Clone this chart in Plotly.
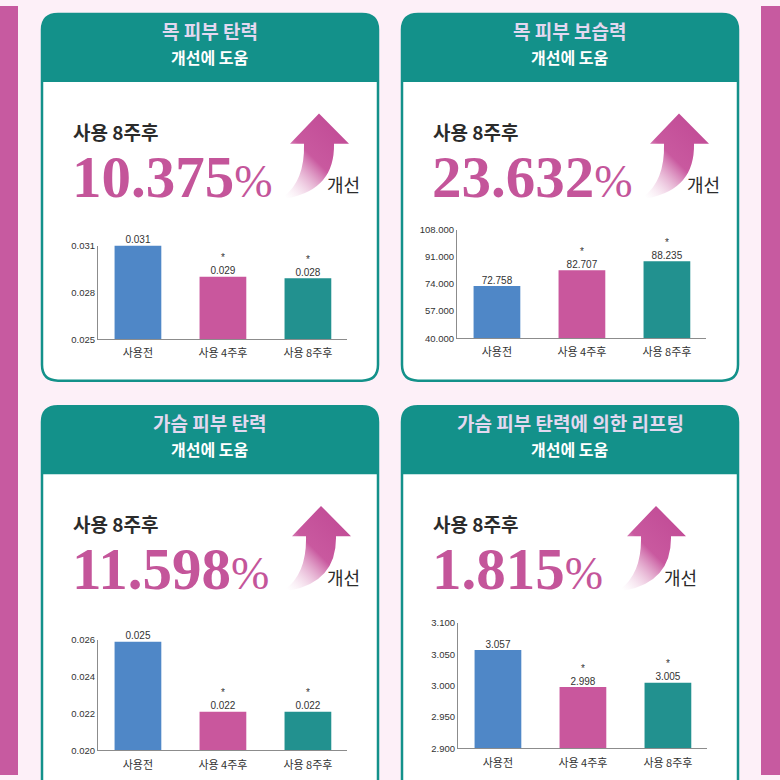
import base64
import plotly.graph_objects as go

# ---------------- data ----------------
categories = ["사용전", "사용 4주후", "사용 8주후"]

titles_line1 = ["목 피부 탄력", "목 피부 보습력", "가슴 피부 탄력", "가슴 피부 탄력에 의한 리프팅"]
titles_line2 = ["개선에 도움", "개선에 도움", "개선에 도움", "개선에 도움"]
improvements = ["10.375", "23.632", "11.598", "1.815"]

neck_elasticity = [0.0310, 0.0290, 0.0289]
neck_elasticity_labels = ["0.031", "0.029", "0.028"]
neck_moisture = [72.758, 82.707, 88.235]
neck_moisture_labels = ["72.758", "82.707", "88.235"]
chest_elasticity = [0.0259, 0.0221, 0.0221]
chest_elasticity_labels = ["0.025", "0.022", "0.022"]
chest_lifting = [3.057, 2.998, 3.005]
chest_lifting_labels = ["3.057", "2.998", "3.005"]

significance = ["", "*", "*"]

tick_sets = [
    ([0.025, 0.028, 0.031], ["0.025", "0.028", "0.031"]),
    ([40, 57, 74, 91, 108], ["40.000", "57.000", "74.000", "91.000", "108.000"]),
    ([0.020, 0.022, 0.024, 0.026], ["0.020", "0.022", "0.024", "0.026"]),
    ([2.90, 2.95, 3.00, 3.05, 3.10], ["2.900", "2.950", "3.000", "3.050", "3.100"]),
]
y_ranges = [[0.025, 0.031], [40, 108], [0.020, 0.026], [2.90, 3.10]]

# ---------------- styling ----------------
W = H = 780
BG = "#fdf0f8"
STRIPE = "#c75aa0"
TEAL = "#13918a"
BAR_COLORS = ["#4f87c7", "#c9579d", "#22918f"]
NUM_COLOR = "#c4559a"
KR = "Noto Sans CJK KR"


def px(x):
    return x / W


def py(y):
    return 1 - y / H


def rounded_path(x0, y0, x1, y1, r, bottom_round=True):
    p = f"M {px(x0)},{py(y0 + r)} Q {px(x0)},{py(y0)} {px(x0 + r)},{py(y0)} "
    p += f"L {px(x1 - r)},{py(y0)} Q {px(x1)},{py(y0)} {px(x1)},{py(y0 + r)} "
    if bottom_round:
        p += f"L {px(x1)},{py(y1 - r)} Q {px(x1)},{py(y1)} {px(x1 - r)},{py(y1)} "
        p += f"L {px(x0 + r)},{py(y1)} Q {px(x0)},{py(y1)} {px(x0)},{py(y1 - r)} Z"
    else:
        p += f"L {px(x1)},{py(y1)} L {px(x0)},{py(y1)} Z"
    return p


# arrow graphic (decorative) as inline SVG
arrow_svg = """<svg xmlns='http://www.w3.org/2000/svg' width='70' height='90' viewBox='0 0 70 90'>
<defs><linearGradient id='g' x1='0.75' y1='0.1' x2='0.05' y2='1'>
<stop offset='0' stop-color='#c24d97'/>
<stop offset='0.45' stop-color='#c9599f'/>
<stop offset='1' stop-color='#ffffff' stop-opacity='0.3'/>
</linearGradient></defs>
<path d='M39,3 L69,33 L54,33 Q55,78 8,87 L3,86 Q25,70 24,33 L10,33 Z' fill='url(#g)'/>
</svg>"""
arrow_src = "data:image/svg+xml;base64," + base64.b64encode(arrow_svg.encode()).decode()

panels = [
    dict(x0=42, y0=8),
    dict(x0=402, y0=8),
    dict(x0=42, y0=406),
    dict(x0=402, y0=406),
]
PW, PH, HH = 336, 372, 69

arrow_dx = [278, 278, 280, 255]
gain_dx = [283, 283, 283, 260]

series = [
    (neck_elasticity, neck_elasticity_labels),
    (neck_moisture, neck_moisture_labels),
    (chest_elasticity, chest_elasticity_labels),
    (chest_lifting, chest_lifting_labels),
]
chart_y = [(243, 338), (227, 337), (643, 755), (626, 753)]
chart_x_off = [56, 55, 56, 56]

fig = go.Figure()
shapes = []
annotations = []
images = []

# side stripes
shapes.append(dict(type="rect", xref="paper", yref="paper", x0=0, x1=px(18), y0=0, y1=1,
                   fillcolor=STRIPE, line=dict(width=0), layer="below"))
shapes.append(dict(type="rect", xref="paper", yref="paper", x0=px(761), x1=1, y0=0, y1=1,
                   fillcolor=STRIPE, line=dict(width=0), layer="below"))

for i, p in enumerate(panels):
    x0, y0 = p["x0"], p["y0"]
    x1, y1 = x0 + PW, y0 + PH
    if i >= 2:
        y1 = 820
    cx = x0 + PW / 2
    shapes.append(dict(type="path", xref="paper", yref="paper",
                       path=rounded_path(x0, y0, x1, y1, 16),
                       fillcolor="white", line=dict(color=TEAL, width=2.5), layer="below"))
    shapes.append(dict(type="path", xref="paper", yref="paper",
                       path=rounded_path(x0, y0, x1, y0 + HH, 16, bottom_round=False),
                       fillcolor=TEAL, line=dict(width=0), layer="below"))
    # header
    annotations.append(dict(x=px(cx), y=py(y0 + 16.5), xref="paper", yref="paper",
                            text=titles_line1[i], showarrow=False, xanchor="center", yanchor="middle",
                            font=dict(family=KR, size=19, color="#e3d8f0", weight="bold")))
    annotations.append(dict(x=px(cx), y=py(y0 + 43.5), xref="paper", yref="paper",
                            text=titles_line2[i], showarrow=False, xanchor="center", yanchor="middle",
                            font=dict(family=KR, size=16, color="white", weight="bold")))
    # big callout
    annotations.append(dict(x=px(x0 + 29), y=py(y0 + 119), xref="paper", yref="paper",
                            text="사용 8주후", showarrow=False, xanchor="left", yanchor="middle",
                            font=dict(family=KR, size=19, color="#2b2b2b", weight="bold")))
    annotations.append(dict(x=px(x0 + 28), y=py(y0 + 130), xref="paper", yref="paper",
                            text=improvements[i] + "<span style='font-size:46px;font-weight:normal'>%</span>",
                            showarrow=False, xanchor="left", yanchor="top",
                            font=dict(family="Liberation Serif", size=59, color=NUM_COLOR, weight="bold")))
    annotations.append(dict(x=px(x0 + gain_dx[i]), y=py(y0 + 173), xref="paper", yref="paper",
                            text="개선", showarrow=False, xanchor="left", yanchor="middle",
                            font=dict(family=KR, size=18, color="#2b2b2b")))
    images.append(dict(source=arrow_src, xref="paper", yref="paper",
                       x=px(x0 + arrow_dx[i] - 40), y=py(y0 + 98), sizex=70 / W, sizey=92 / H,
                       xanchor="left", yanchor="top", sizing="stretch", layer="above"))

    # bar chart
    vals, labels = series[i]
    ax = "" if i == 0 else str(i + 1)
    xa, ya = "x" + ax, "y" + ax
    ytop, ybot = chart_y[i]
    xl = x0 + chart_x_off[i]
    xr = xl + 249
    fig.add_trace(go.Bar(x=categories, y=vals, marker=dict(color=BAR_COLORS, line=dict(width=0)),
                         width=0.55, xaxis=xa, yaxis=ya, showlegend=False, hoverinfo="skip"))
    texts = [(s + "<br>" if s else "") + l for s, l in zip(significance, labels)]
    fig.add_trace(go.Scatter(x=categories, y=vals, mode="text", text=texts, textposition="top center",
                             textfont=dict(family="Liberation Sans", size=10, color="#333333"),
                             cliponaxis=False, xaxis=xa, yaxis=ya, showlegend=False, hoverinfo="skip"))
    tv, tt = tick_sets[i]
    fig.layout["xaxis" + ax] = dict(domain=[px(xl), px(xr)], anchor=ya, range=[-0.47, 2.46],
                                    type="category", showline=True, linecolor="#8c8c8c", linewidth=1,
                                    showgrid=False, zeroline=False, ticks="outside", ticklen=4,
                                    tickcolor="rgba(0,0,0,0)",
                                    tickfont=dict(family=KR, size=11, color="#333333"), fixedrange=True)
    fig.layout["yaxis" + ax] = dict(domain=[py(ybot), py(ytop)], anchor=xa, range=y_ranges[i],
                                    showline=True, linecolor="#8c8c8c", linewidth=1, showgrid=False,
                                    zeroline=False, ticks="", tickvals=tv, ticktext=tt,
                                    tickfont=dict(family="Liberation Sans", size=9.5, color="#333333"),
                                    fixedrange=True)

fig.update_layout(width=W, height=H, autosize=False, margin=dict(l=0, r=0, t=0, b=0),
                  paper_bgcolor=BG, plot_bgcolor="rgba(0,0,0,0)",
                  shapes=shapes, annotations=annotations, images=images, bargap=0.3)

fig.write_html("out.html", config={"displayModeBar": False},
               post_script="document.body.style.margin='0';")
